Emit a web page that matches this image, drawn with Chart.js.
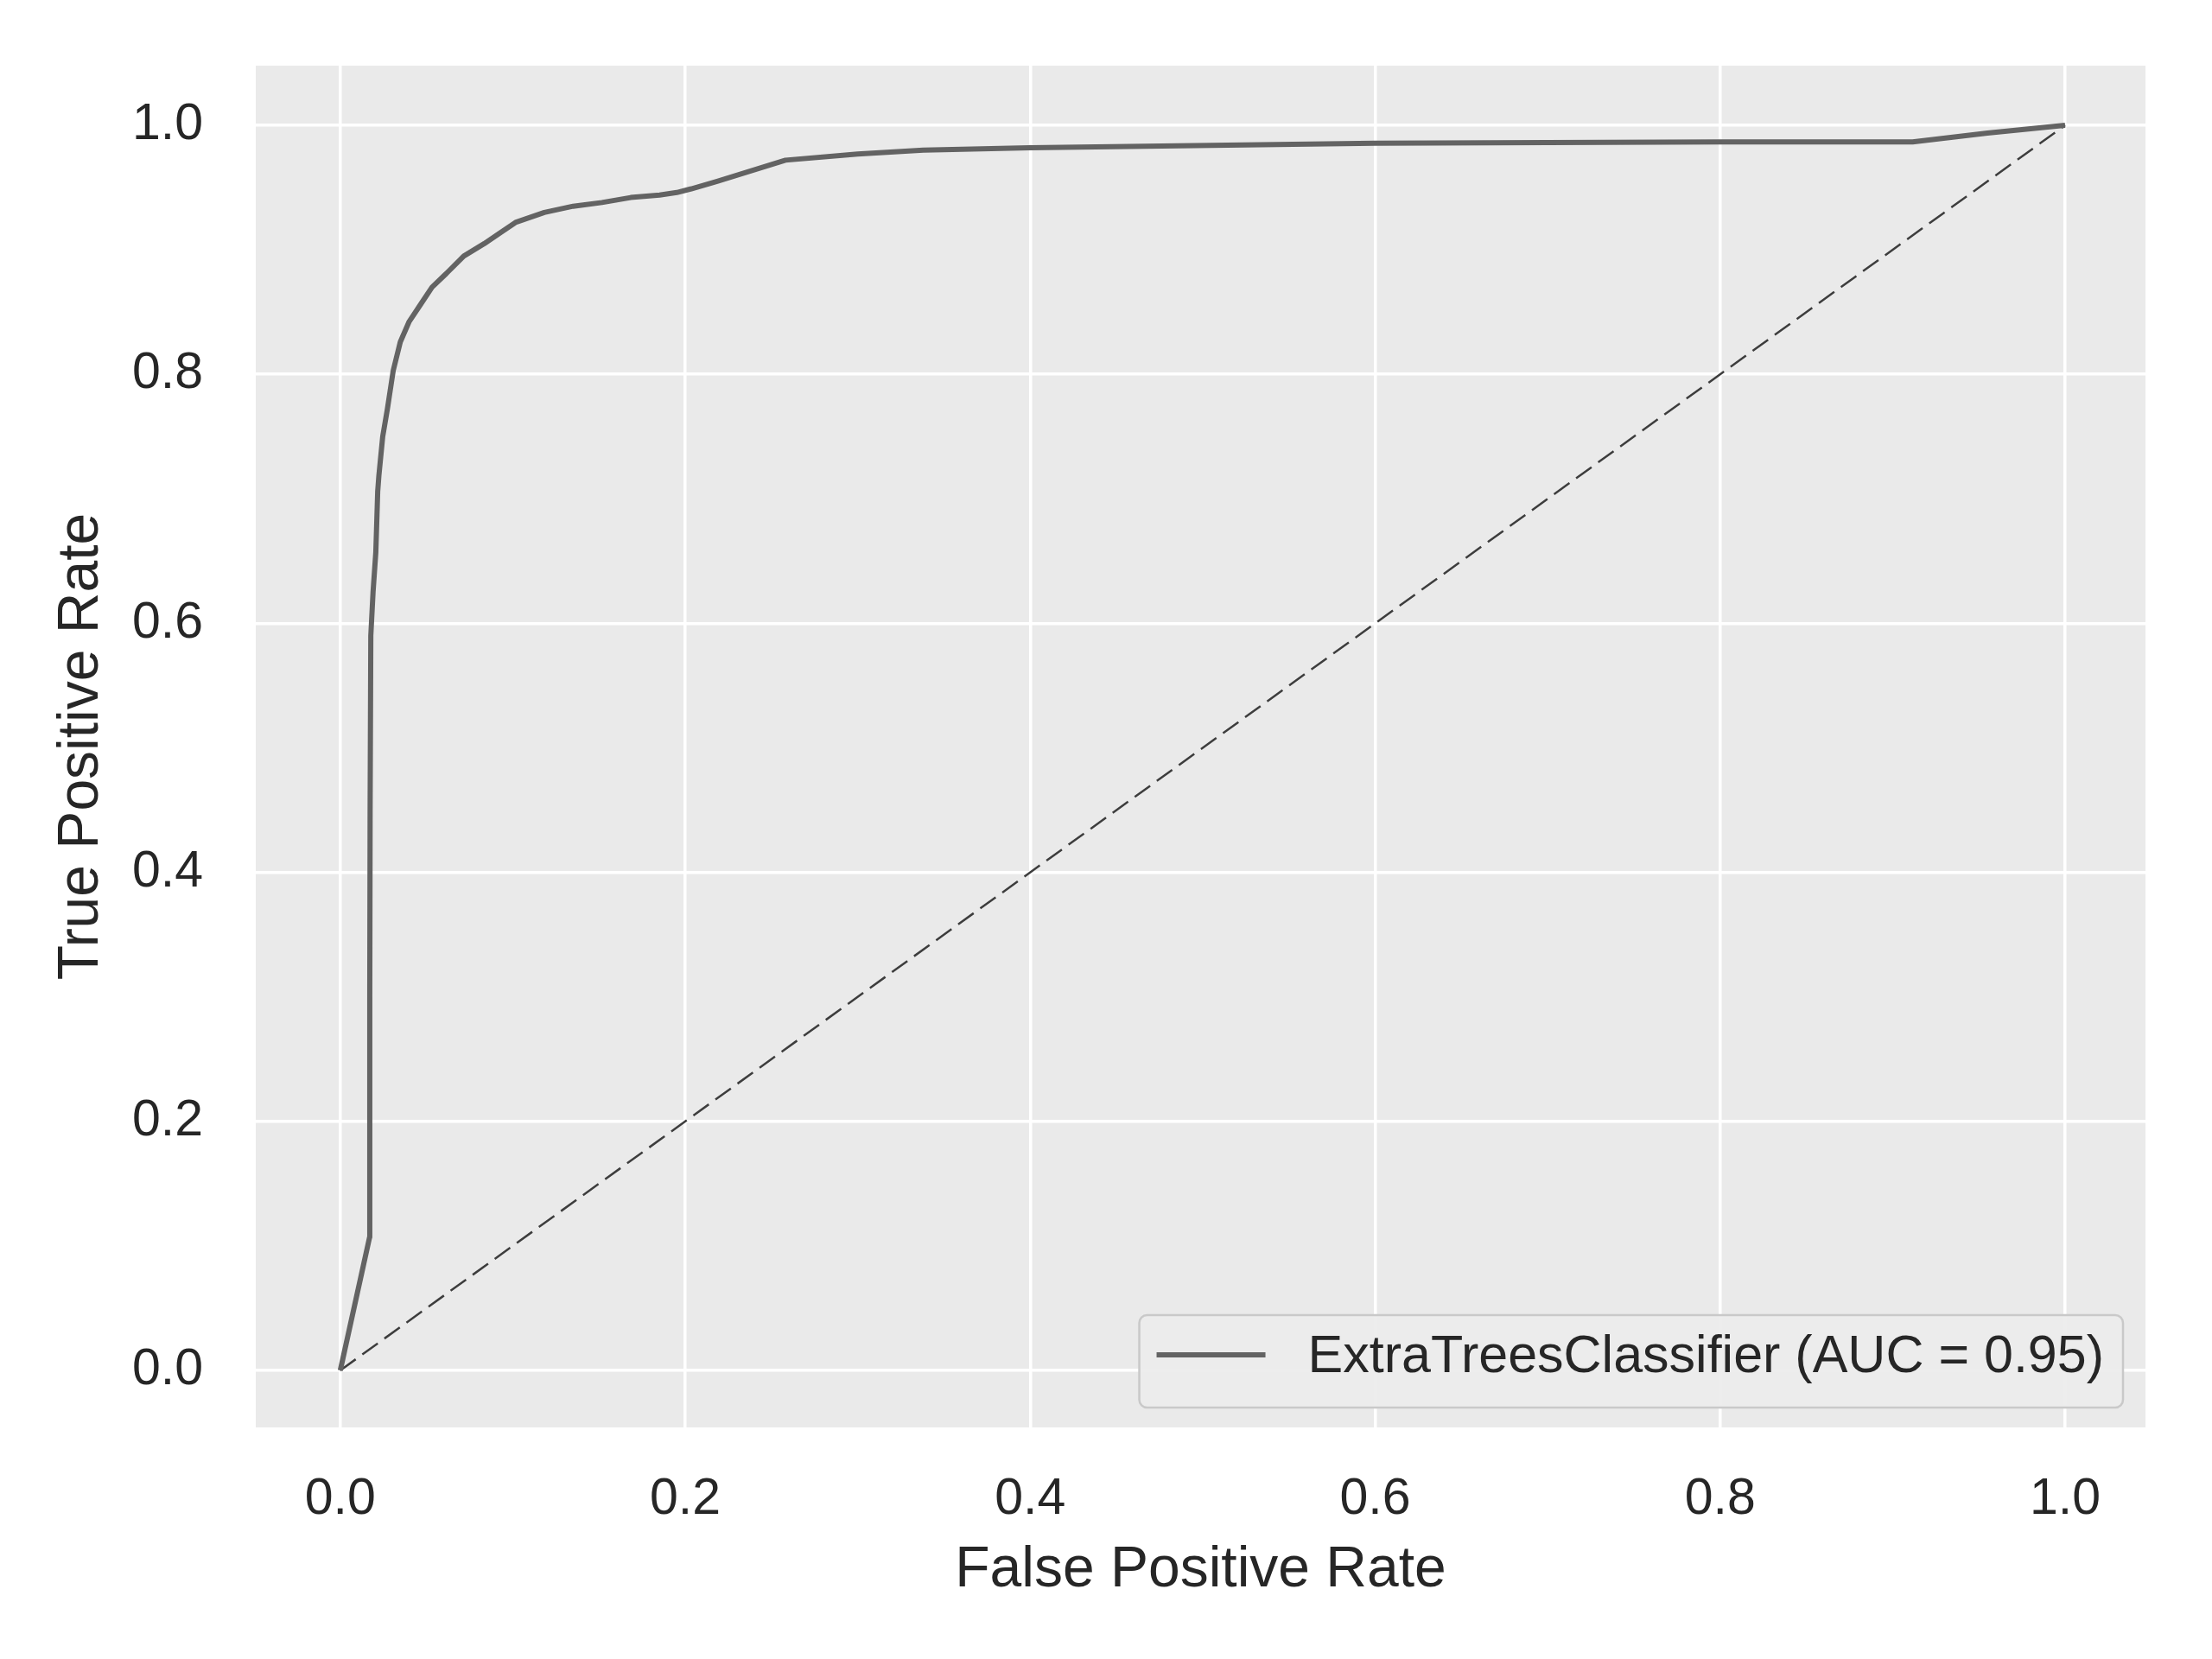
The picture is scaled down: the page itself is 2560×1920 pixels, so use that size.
<!DOCTYPE html>
<html>
<head>
<meta charset="utf-8">
<title>ROC curve</title>
<script src="https://cdn.jsdelivr.net/npm/chart.js@4.4.1/dist/chart.umd.min.js"></script>
<style>
  html, body { margin: 0; padding: 0; background: #ffffff; }
  #rocChart { display: block; }
</style>
</head>
<body>
<canvas id="rocChart" width="2560" height="1920"></canvas>
<script>
// curva ROC (taxa de falsos positivos x taxa de verdadeiros positivos)
const fprValues = [0, 0.017, 0.0171, 0.0173, 0.0177, 0.019, 0.0206, 0.0217, 0.0224, 0.0246, 0.0273,
  0.0307, 0.0348, 0.0398, 0.0465, 0.0532, 0.0615, 0.0716, 0.0835, 0.0925, 0.1016, 0.1183,
  0.135, 0.1517, 0.1684, 0.1851, 0.1951, 0.2035, 0.2185, 0.2581, 0.30, 0.338, 0.40, 0.60,
  0.80, 0.9116, 0.955, 1.0];
const tprValues = [0, 0.107, 0.30, 0.45, 0.59, 0.625, 0.657, 0.706, 0.719, 0.750, 0.772,
  0.803, 0.826, 0.842, 0.856, 0.870, 0.881, 0.895, 0.905, 0.9135, 0.922, 0.930,
  0.935, 0.938, 0.942, 0.944, 0.946, 0.949, 0.955, 0.972, 0.977, 0.980, 0.982, 0.9856,
  0.9866, 0.9866, 0.9937, 1.0];

// linha de referência (classificador aleatório)
const chanceX = [0, 1];
const chanceY = [0, 1];

const xTicks = [0, 0.2, 0.4, 0.6, 0.8, 1.0];
const yTicks = [0, 0.2, 0.4, 0.6, 0.8, 1.0];

const curveLabel = 'ExtraTreesClassifier (AUC = 0.95)';
const xTitle = 'False Positive Rate';
const yTitle = 'True Positive Rate';

const FONT = '"Liberation Sans", Arial, sans-serif';
const TEXT_COLOR = '#262626';

const toPoints = (xs, ys) => xs.map((x, i) => ({ x: x, y: ys[i] }));

// fundo cinza da área do gráfico (estilo seaborn)
const plotBackground = {
  id: 'plotBackground',
  beforeDraw(chart) {
    const { ctx, chartArea } = chart;
    ctx.save();
    ctx.fillStyle = '#eaeaea';
    ctx.fillRect(chartArea.left, chartArea.top, chartArea.right - chartArea.left, chartArea.bottom - chartArea.top);
    ctx.restore();
  }
};

// legenda desenhada dentro do gráfico, canto inferior direito
const insideLegend = {
  id: 'insideLegend',
  afterDatasetsDraw(chart) {
    const { ctx, chartArea } = chart;
    const ds = chart.data.datasets[0];
    ctx.save();
    ctx.font = '61px ' + FONT;
    const textW = ctx.measureText(ds.label).width;
    const right = chartArea.right - 26;
    const bottom = chartArea.bottom - 23;
    const height = 107;
    const top = bottom - height;
    const left = right - (20 + 126 + 49 + textW + 22);

    ctx.beginPath();
    ctx.roundRect(left, top, right - left, height, 9);
    ctx.fillStyle = 'rgba(236, 236, 236, 0.92)';
    ctx.fill();
    ctx.lineWidth = 2.5;
    ctx.strokeStyle = '#c9c9c9';
    ctx.stroke();

    ctx.beginPath();
    ctx.moveTo(left + 20, top + 46);
    ctx.lineTo(left + 146, top + 46);
    ctx.lineWidth = ds.borderWidth;
    ctx.strokeStyle = ds.borderColor;
    ctx.lineCap = 'butt';
    ctx.stroke();

    ctx.fillStyle = TEXT_COLOR;
    ctx.textBaseline = 'alphabetic';
    ctx.textAlign = 'left';
    ctx.fillText(ds.label, left + 195, top + 66);
    ctx.restore();
  }
};

const ctx = document.getElementById('rocChart').getContext('2d');

new Chart(ctx, {
  type: 'scatter',
  data: {
    datasets: [
      {
        label: curveLabel,
        data: toPoints(fprValues, tprValues),
        showLine: true,
        borderColor: '#636363',
        borderWidth: 6,
        borderJoinStyle: 'round',
        pointRadius: 0,
        tension: 0
      },
      {
        label: 'chance',
        data: toPoints(chanceX, chanceY),
        showLine: true,
        borderColor: '#3d3d3d',
        borderWidth: 2.5,
        borderDash: [22, 9.5],
        pointRadius: 0,
        tension: 0
      }
    ]
  },
  options: {
    responsive: false,
    animation: false,
    devicePixelRatio: 1,
    layout: { padding: { top: 76, right: 77, left: 0, bottom: 0 } },
    plugins: {
      legend: { display: false },
      tooltip: { enabled: false }
    },
    scales: {
      x: {
        type: 'linear',
        min: -0.049,
        max: 1.0466,
        afterBuildTicks: axis => { axis.ticks = xTicks.map(v => ({ value: v })); },
        afterFit: scale => {
          scale.height = 268;
          scale.paddingLeft = 0;
          scale.paddingRight = 0;
        },
        border: { display: false },
        grid: { color: '#ffffff', lineWidth: 3.5, drawTicks: false },
        ticks: {
          padding: 48,
          color: TEXT_COLOR,
          font: { family: FONT, size: 59, lineHeight: 1.2 },
          callback: v => v.toFixed(1)
        },
        title: {
          display: true,
          text: xTitle,
          color: TEXT_COLOR,
          font: { family: FONT, size: 66, lineHeight: 1.2 },
          padding: { top: 0, bottom: 63 }
        }
      },
      y: {
        type: 'linear',
        min: -0.0458,
        max: 1.0479,
        afterBuildTicks: axis => { axis.ticks = yTicks.map(v => ({ value: v })); },
        afterFit: scale => {
          scale.width = 296;
          scale.paddingTop = 0;
          scale.paddingBottom = 0;
        },
        border: { display: false },
        grid: { color: '#ffffff', lineWidth: 3.5, drawTicks: false },
        ticks: {
          padding: 61,
          color: TEXT_COLOR,
          font: { family: FONT, size: 59, lineHeight: 1.2 },
          callback: v => v.toFixed(1)
        },
        title: {
          display: true,
          text: yTitle,
          color: TEXT_COLOR,
          font: { family: FONT, size: 66, lineHeight: 1.2 },
          padding: { top: 55, bottom: 0 }
        }
      }
    }
  },
  plugins: [plotBackground, insideLegend]
});
</script>
</body>
</html>
